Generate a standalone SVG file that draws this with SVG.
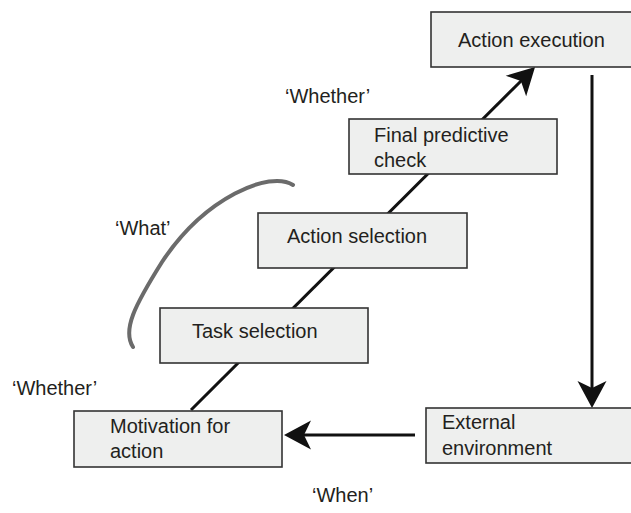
<svg xmlns="http://www.w3.org/2000/svg" width="631" height="513" viewBox="0 0 631 513">
  <style>
    .box { fill: #eeefee; stroke: #333333; stroke-width: 1.6; }
    .lbl { font-family: "Liberation Sans", Arial, sans-serif; font-size: 20px; fill: #231f20; }
    .conn { fill: none; stroke: #111111; stroke-width: 3; }
    .arc { fill: none; stroke: #6b6b6b; stroke-width: 4; stroke-linecap: round; }
  </style>
  <defs>
    <marker id="head" markerUnits="userSpaceOnUse" viewBox="-29 -16 31 32" refX="-18" refY="0" markerWidth="31" markerHeight="32" orient="auto">
      <path d="M0,0 L-27,-14.5 L-20,0 L-27,14.5 Z" fill="#111111"/>
    </marker>
  </defs>

  <rect width="631" height="513" fill="#ffffff"/>

  <!-- connectors -->
  <g id="connectors">
    <line class="conn" x1="191" y1="410" x2="522.3" y2="79.7" stroke-width="2.6" marker-end="url(#head)"/>
    <line class="conn" x1="592" y1="75" x2="592" y2="390" marker-end="url(#head)"/>
    <line class="conn" x1="415" y1="435" x2="302" y2="435" marker-end="url(#head)"/>
  </g>

  <!-- bracket around the 'What' stages -->
  <path class="arc" d="M293,185 C270,170 205,197 162,262 C135,305 122,330 133,347"/>

  <!-- nodes -->
  <g id="action-execution">
    <rect class="box" x="431" y="12" width="202" height="55"/>
    <text class="lbl" x="458" y="47">Action execution</text>
  </g>
  <g id="final-predictive-check">
    <rect class="box" x="349" y="119" width="208" height="55"/>
    <text class="lbl" x="374" y="142">Final predictive</text>
    <text class="lbl" x="374" y="167">check</text>
  </g>
  <g id="action-selection">
    <rect class="box" x="258" y="213" width="209" height="55"/>
    <text class="lbl" x="287" y="243">Action selection</text>
  </g>
  <g id="task-selection">
    <rect class="box" x="160" y="308" width="208" height="55"/>
    <text class="lbl" x="192" y="338">Task selection</text>
  </g>
  <g id="motivation-for-action">
    <rect class="box" x="74" y="411" width="208" height="56"/>
    <text class="lbl" x="110" y="433">Motivation for</text>
    <text class="lbl" x="110" y="458">action</text>
  </g>
  <g id="external-environment">
    <rect class="box" x="426" y="408" width="207" height="55"/>
    <text class="lbl" x="442" y="429">External</text>
    <text class="lbl" x="442" y="455">environment</text>
  </g>

  <!-- stage labels -->
  <g id="labels">
    <text class="lbl" x="285" y="103">&#8216;Whether&#8217;</text>
    <text class="lbl" x="115" y="235">&#8216;What&#8217;</text>
    <text class="lbl" x="12" y="395">&#8216;Whether&#8217;</text>
    <text class="lbl" x="312" y="502">&#8216;When&#8217;</text>
  </g>
</svg>
